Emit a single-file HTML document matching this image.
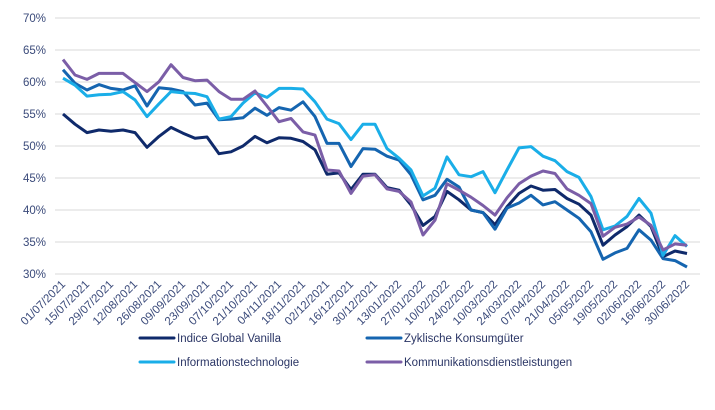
<!DOCTYPE html>
<html><head><meta charset="utf-8"><style>
body{margin:0;background:#fff;}
svg{display:block;font-family:"Liberation Sans",sans-serif;}
</style></head><body>
<svg id="chart" width="715" height="410"></svg>
<script>
const labels=["01/07/2021","15/07/2021","29/07/2021","12/08/2021","26/08/2021","09/09/2021","23/09/2021","07/10/2021","21/10/2021","04/11/2021","18/11/2021","02/12/2021","16/12/2021","30/12/2021","13/01/2022","27/01/2022","10/02/2022","24/02/2022","10/03/2022","24/03/2022","07/04/2022","21/04/2022","05/05/2022","19/05/2022","02/06/2022","16/06/2022","30/06/2022"];
const yTicks=[30,35,40,45,50,55,60,65,70];
const vanilla=[55.0,53.4,52.1,52.5,52.3,52.5,52.1,49.8,51.5,52.9,52.0,51.2,51.4,48.8,49.1,50.0,51.5,50.5,51.3,51.2,50.7,49.4,45.6,45.8,43.2,45.6,45.6,43.5,43.1,40.8,37.6,39.0,42.9,41.6,40.0,39.6,37.7,40.5,42.6,43.75,43.1,43.2,41.8,40.9,39.2,34.5,36.1,37.4,39.2,37.4,32.7,33.6,33.2];
const zyklisch=[61.9,59.8,58.75,59.6,59.0,58.75,59.4,56.25,59.1,58.9,58.5,56.4,56.7,54.1,54.2,54.4,55.9,54.8,56.0,55.6,56.9,54.6,50.4,50.4,46.8,49.6,49.5,48.4,47.8,45.5,41.6,42.3,44.8,43.6,40.0,39.6,37.0,40.3,41.1,42.3,40.8,41.3,40.0,38.7,36.6,32.3,33.3,34.0,36.9,35.3,32.4,32.1,31.1];
const info=[60.6,59.5,57.8,58.0,58.1,58.5,57.2,54.6,56.6,58.5,58.3,58.2,57.7,54.2,54.6,56.7,58.3,57.6,59.0,59.0,58.9,56.9,54.2,53.5,51.0,53.4,53.4,49.6,48.1,46.25,42.2,43.4,48.3,45.5,45.2,46.0,42.7,46.25,49.7,49.9,48.4,47.7,46.0,45.1,42.1,36.9,37.5,39.0,41.8,39.5,32.9,36.0,34.3];
const komm=[63.5,61.1,60.4,61.35,61.35,61.35,59.9,58.5,60.05,62.7,60.7,60.2,60.3,58.5,57.3,57.3,58.6,56.25,53.8,54.3,52.2,51.7,46.25,46.1,42.6,45.3,45.5,43.3,42.9,41.25,36.1,38.4,44.1,43.1,42.0,40.7,39.2,41.9,44.1,45.3,46.1,45.7,43.3,42.3,41.0,35.9,37.3,37.8,38.9,37.6,33.75,34.7,34.5];
const seriesNames=["Indice Global Vanilla","Zyklische Konsumgüter","Informationstechnologie","Kommunikationsdienstleistungen"];
const NS="http://www.w3.org/2000/svg";
const svg=document.getElementById('chart');
const X0=63,X1=687,Y0=274,Y1=18,VMIN=30,VMAX=70;
const n=vanilla.length;
function xs(i){return X0+(X1-X0)*i/(n-1);}
function ys(v){return Y0-(v-VMIN)/(VMAX-VMIN)*(Y0-Y1);}
function mk(t,a){const e=document.createElementNS(NS,t);for(const k in a)e.setAttribute(k,a[k]);svg.appendChild(e);return e;}
yTicks.forEach(v=>{
  const g=mk('line',{x1:55,x2:700,y1:ys(v),y2:ys(v),stroke:'#d9d9d9','stroke-width':1});
  
  
  const t=mk('text',{x:46,y:ys(v)+4,'text-anchor':'end','font-size':11.5,fill:'#3a4a7a'});
  t.textContent=v+'%';
  
  
});
labels.forEach((l,k)=>{
  const x=xs(k*2)+3,y=285;
  const t=mk('text',{x:x,y:y,'text-anchor':'end','font-size':11.5,fill:'#3a4a7a',transform:`rotate(-45 ${x} ${y})`});
  t.textContent=l;
  
  
});
const colors=['#0f2a6b','#1565b0','#1aaee8','#7b5ea7'];
[vanilla,zyklisch,info,komm].forEach((arr,s)=>{
  const d=arr.map((v,i)=>(i?'L':'M')+xs(i).toFixed(1)+' '+ys(v).toFixed(1)).join(' ');
  const p=mk('path',{d:d,fill:'none',stroke:colors[s],'stroke-width':3,'stroke-linejoin':'round'});
  
  
});
const lx=[140,367],ly=[338,362];
seriesNames.forEach((nm,s)=>{
  const x=lx[s%2],y=ly[Math.floor(s/2)];
  const l=mk('line',{x1:x,x2:x+34,y1:y,y2:y,stroke:colors[s],'stroke-width':3,'stroke-linecap':'round'});
  
  
  const t=mk('text',{x:x+37,y:y+4,'font-size':11.5,fill:'#2a3565'});
  t.textContent=nm;
  
  
});
</script>
</body></html>
